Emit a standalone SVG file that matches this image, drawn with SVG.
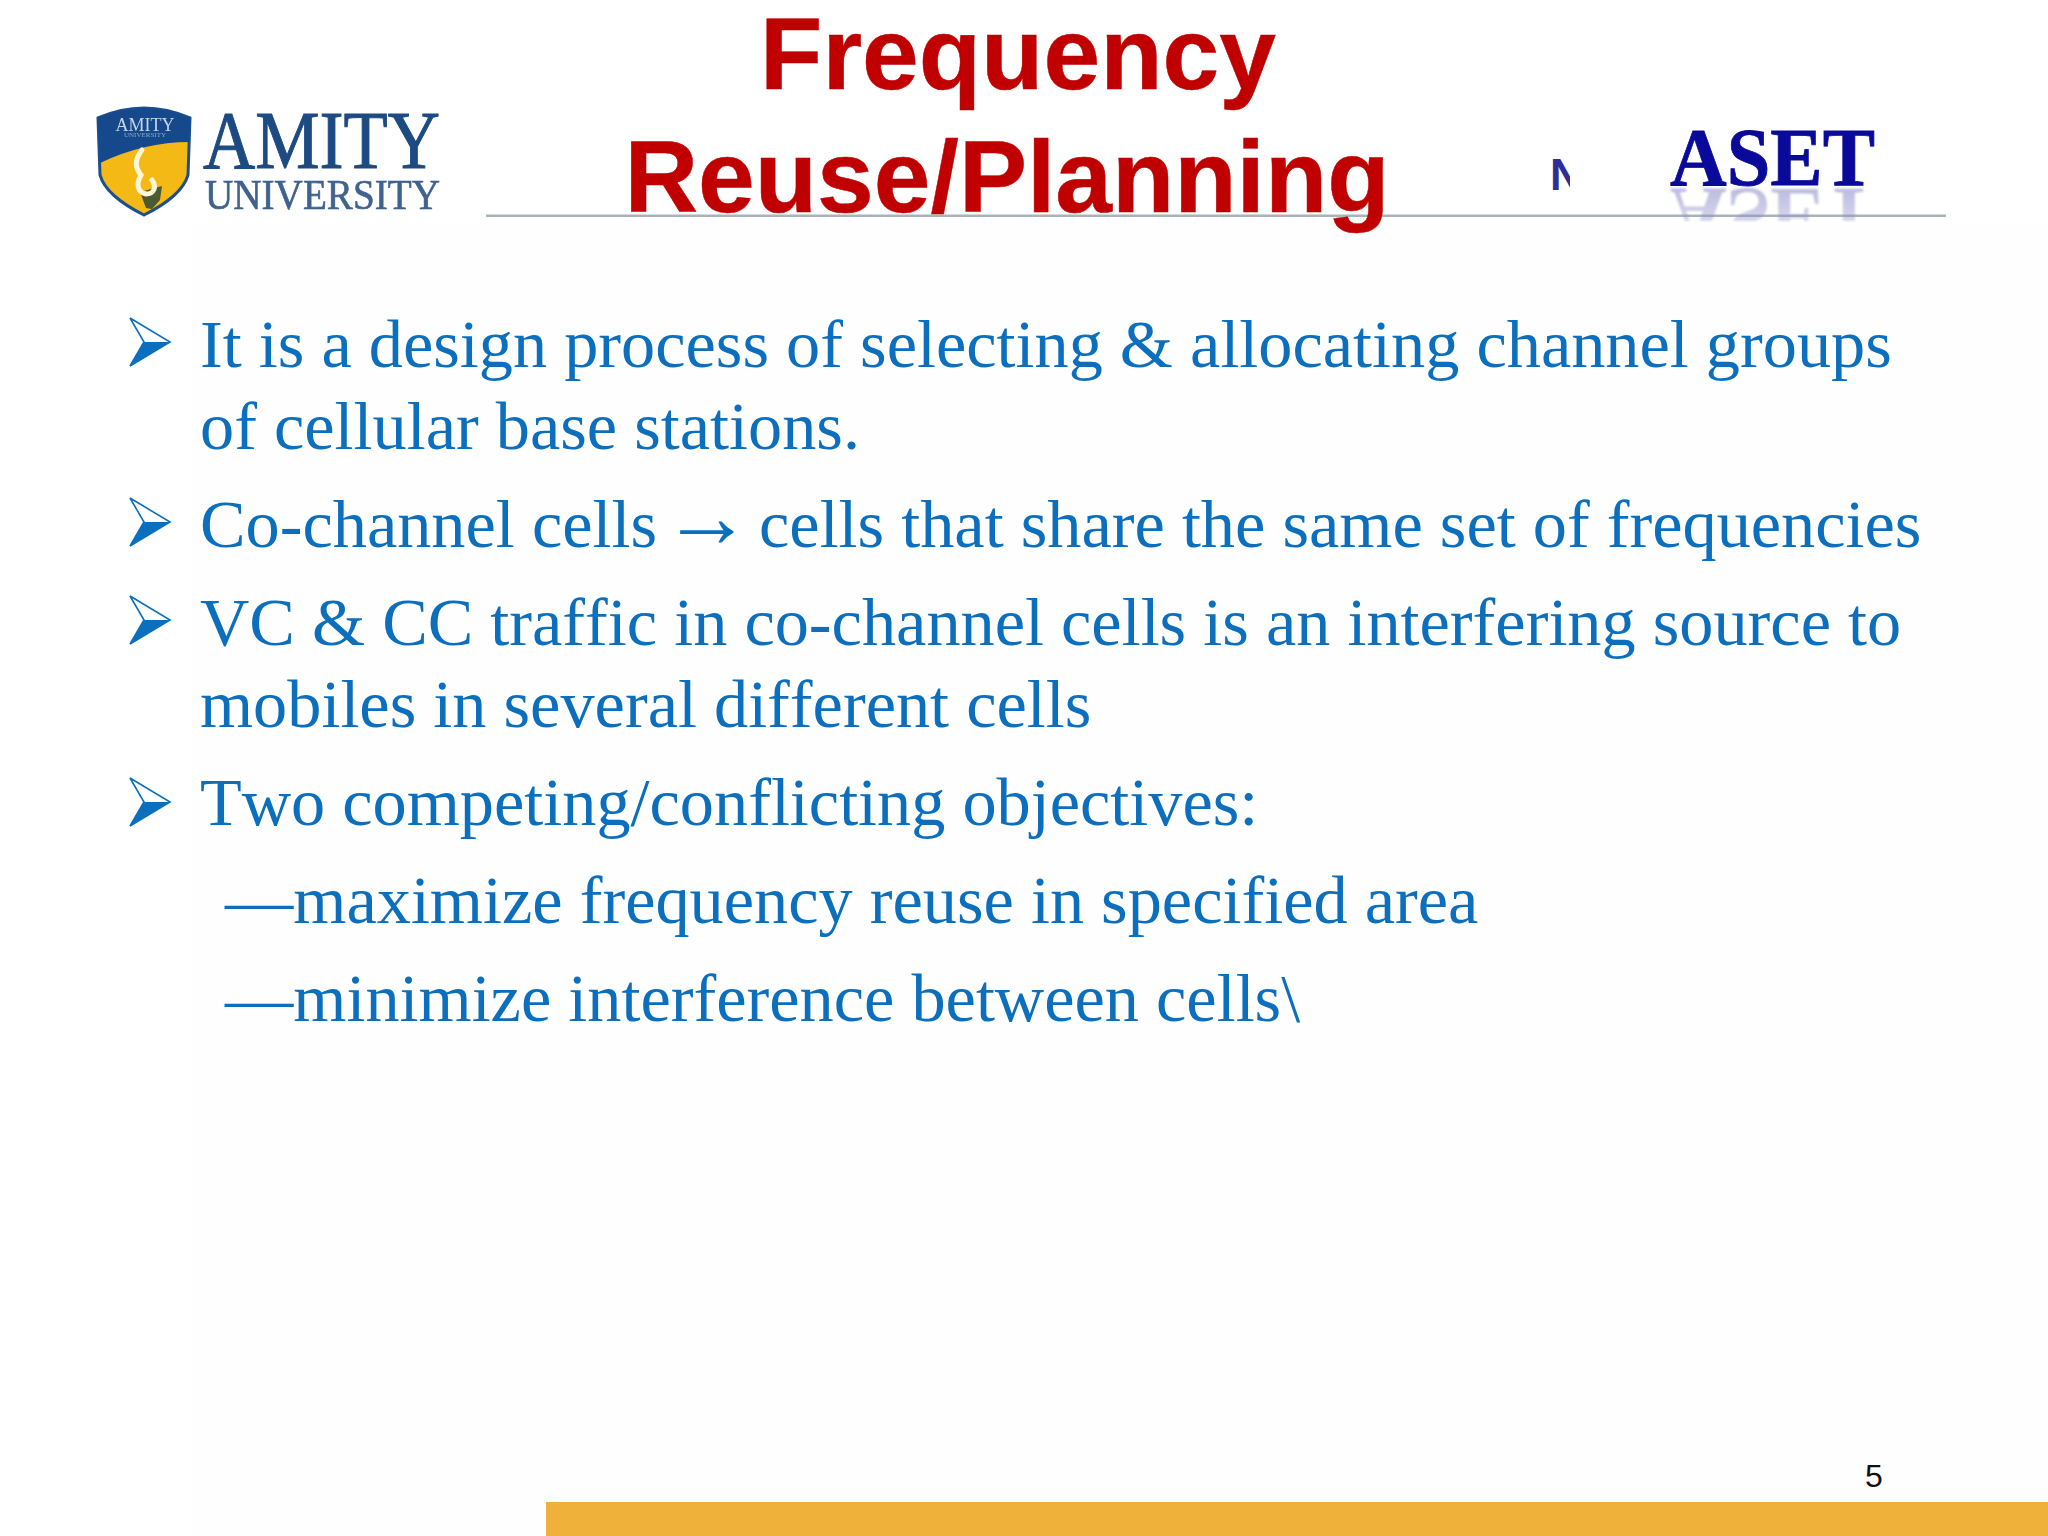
<svg xmlns="http://www.w3.org/2000/svg" width="2048" height="1536" viewBox="0 0 2048 1536">
<style>
.t{font-family:"Liberation Sans",Arial,sans-serif;font-weight:700;font-size:102px;fill:#c00000;text-anchor:middle;stroke:#c00000;stroke-width:.5}
.b{font-family:"Liberation Serif","Times New Roman",serif;font-size:68.3px;fill:#0b6fbd;font-kerning:none}
.s{font-family:"Liberation Serif","Times New Roman",serif}
</style>
<defs>
<g id="bu"><path d="M0 0L40 24L0 48L14 24Z" fill="#fff" stroke="#0b6fbd" stroke-width="1.6"/><path d="M14 24H40L0 48Z" fill="#0b6fbd"/></g>
<linearGradient id="rf" x1="0" y1="0" x2="0" y2="1"><stop offset="0" stop-color="#8a8ac8" stop-opacity=".05"/><stop offset="1" stop-color="#8a8ac8" stop-opacity=".7"/></linearGradient>
<clipPath id="nc"><rect x="1540" y="150" width="30" height="50"/></clipPath>
<clipPath id="rc"><rect x="1660" y="187" width="230" height="34"/></clipPath>
<filter id="soft" x="-5%" y="-5%" width="110%" height="110%"><feGaussianBlur stdDeviation=".7"/></filter>
<filter id="softer" x="-5%" y="-10%" width="110%" height="120%"><feGaussianBlur stdDeviation="1.2"/></filter>
</defs>
<rect width="2048" height="1536" fill="#fff"/>
<rect x="192" y="225" width="1856" height="1311" fill="#fefefe"/>
<g id="amity-logo" filter="url(#soft)">
<path d="M98 118Q144 98 190 118L188 175Q182 196 144 215Q106 196 100 175Z" fill="#f5b915" stroke="#1c4f8e" stroke-width="3"/>
<path d="M98 118Q144 98 190 118V142Q144 142 100 163Z" fill="#174a8c"/>
<text class="s" x="145" y="131" font-size="18" fill="#c7d4e8" text-anchor="middle">AMITY</text>
<text class="s" x="145" y="137" font-size="7" fill="#8fa6c8" text-anchor="middle">UNIVERSITY</text>
<path d="M140 192L162 186L160 200L152 209L146 208Z" fill="#4c5a30"/>
<path d="M142 150C134 160 135 168 141 175C136 184 137 192 146 194C154 194 157 187 152 180" fill="none" stroke="#fff6d8" stroke-width="5" stroke-linecap="round"/>
<text class="s" x="203" y="168" font-size="82" fill="#1f4b83" stroke="#1f4b83" stroke-width="1" textLength="237" lengthAdjust="spacingAndGlyphs">AMITY</text>
<text class="s" x="205" y="209" font-size="42" fill="#3f628e" stroke="#3f628e" stroke-width=".6" textLength="235" lengthAdjust="spacingAndGlyphs">UNIVERSITY</text>
</g>
<rect id="rule" x="486" y="214.500" width="1460" height="2.500" fill="#aab4b8"/>
<g id="aset-logo">
<text x="1550" y="190" font-family="Liberation Sans,sans-serif" font-weight="700" font-size="44" fill="#2e2e96" clip-path="url(#nc)">N</text>
<g filter="url(#softer)"><g clip-path="url(#rc)"><text class="s" transform="matrix(1 0 0 -1 0 374)" x="1670" y="185" font-size="83" font-weight="700" fill="url(#rf)" textLength="205" lengthAdjust="spacingAndGlyphs">ASET</text></g></g>
<text class="s" x="1670" y="185" font-size="83" font-weight="700" fill="#0a0a9a" stroke="#0a0a9a" stroke-width=".8" textLength="205" lengthAdjust="spacingAndGlyphs">ASET</text>
</g>
<g id="title">
<text class="t" x="1018" y="89">Frequency</text>
<text class="t" x="1007" y="212">Reuse/Planning</text>
</g>
<g id="bullets">
<use href="#bu" x="130" y="318"/>
<use href="#bu" x="130" y="498"/>
<use href="#bu" x="130" y="596"/>
<use href="#bu" x="130" y="778"/>
<text class="b" x="200" y="367">It is a design process of selecting &amp; allocating channel groups</text>
<text class="b" x="200" y="449">of cellular base stations.</text>
<text class="b" x="200" y="547">Co-channel cells</text>
<text class="b" x="662" y="547" style="font-size:90px">→</text>
<text class="b" x="759" y="547">cells that share the same set of frequencies</text>
<text class="b" x="200" y="645">VC &amp; CC traffic in co-channel cells is an interfering source to</text>
<text class="b" x="200" y="727">mobiles in several different cells</text>
<text class="b" x="200" y="825">Two competing/conflicting objectives:</text>
<text class="b" x="225" y="923">—maximize frequency reuse in specified area</text>
<text class="b" x="225" y="1021">—minimize interference between cells\</text>
</g>
<text id="page" x="1865" y="1487" font-family="Liberation Sans,Arial,sans-serif" font-size="32" fill="#111">5</text>
<rect id="bar" x="546" y="1502" width="1502" height="34" fill="#f0b13b"/>
</svg>
